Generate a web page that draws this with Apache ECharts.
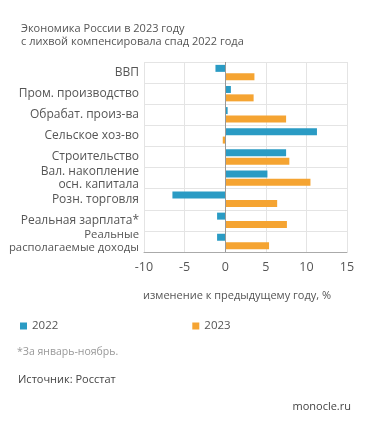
<!DOCTYPE html>
<html><head><meta charset="utf-8">
<script src="https://cdn.jsdelivr.net/npm/echarts@6/dist/echarts.min.js"></script>
<style>html,body{margin:0;padding:0;background:#fff}#c{width:371px;height:429px}</style>
</head><body><div id="c"></div>
<script>
const categories = ['ВВП','Пром. производство','Обрабат. произ-ва','Сельское хоз-во','Строительство','Вал. накопление\nосн. капитала','Розн. торговля','Реальная зарплата*','Реальные\nрасполагаемые доходы'];
const values2022 = [-1.2, 0.7, 0.3, 11.3, 7.5, 5.2, -6.5, -1.0, -1.0];
const values2023 = [3.6, 3.5, 7.5, -0.3, 7.9, 10.5, 6.4, 7.6, 5.4];
const seriesNames = ['2022','2023'];
const xTicks = {min:-10, max:15, interval:5};
const FONT = 'Open Sans';
const catData = categories.map((c, i) => i === categories.length - 1 ? {value:c, textStyle:{fontSize:11.3}} : c);
const chart = echarts.init(document.getElementById('c'), null, {renderer:'canvas'});
chart.setOption({
  backgroundColor:'#fff',
  textStyle:{fontFamily:FONT},
  animation:false,
  title:{text:'Экономика России в 2023 году\nс лихвой компенсировала спад 2022 года', left:16, top:17,
    textStyle:{fontFamily:FONT, fontSize:11, fontWeight:'normal', color:'#555', lineHeight:13}},
  legend:{data:seriesNames, left:15, top:315, itemWidth:7, itemHeight:7, itemGap:134, icon:'rect',
    textStyle:{fontFamily:FONT, fontSize:11.5, color:'#555'}},
  grid:{left:144, right:24, top:62, bottom:177, containLabel:false, outerBoundsMode:'none'},
  xAxis:{type:'value', min:xTicks.min, max:xTicks.max, interval:xTicks.interval,
    axisLine:{show:true, lineStyle:{color:'#aaa'}}, axisTick:{show:false},
    axisLabel:{fontFamily:FONT, fontSize:12.5, color:'#555', margin:9},
    splitLine:{show:true, lineStyle:{color:'#e4e4e4'}}},
  yAxis:{type:'category', data:catData, inverse:true,
    axisLine:{show:false}, axisTick:{show:false},
    axisLabel:{fontFamily:FONT, fontSize:12, color:'#555', lineHeight:12.5, margin:5},
    splitLine:{show:true, lineStyle:{color:'#e4e4e4'}}},
  series:[
    {name:seriesNames[0], type:'bar', data:values2022, barWidth:7, barGap:'20%', itemStyle:{color:'#2a9bc4'},
     markLine:{silent:true, symbol:'none', label:{show:false}, lineStyle:{color:'#999', type:'solid', width:1}, data:[{xAxis:0}]}},
    {name:seriesNames[1], type:'bar', data:values2023, barWidth:7, barGap:'20%', itemStyle:{color:'#f5a432'}}
  ],
  graphic:[
    {type:'text', left:143, top:290, style:{text:'изменение к предыдущему году, %', fontFamily:FONT, fontSize:11, fill:'#555'}},
    {type:'text', left:17, top:347, style:{text:'*За январь-ноябрь.', fontFamily:FONT, fontSize:10.5, fill:'#999'}},
    {type:'text', left:18, top:374, style:{text:'Источник: Росстат', fontFamily:FONT, fontSize:11, fill:'#444'}},
    {type:'text', right:20, top:401, style:{text:'monocle.ru', fontFamily:FONT, fontSize:11, fill:'#444'}}
  ]
});
</script></body></html>
